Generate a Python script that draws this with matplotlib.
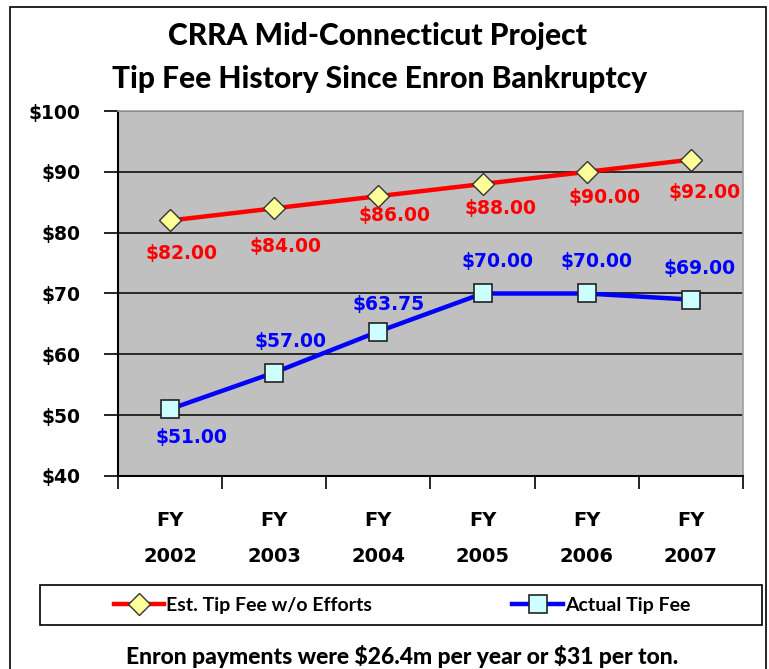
import matplotlib
matplotlib.use("Agg")
import matplotlib.pyplot as plt
from matplotlib.patches import Rectangle
import numpy as np

# Tip fee data, $ per ton
years = ["2002", "2003", "2004", "2005", "2006", "2007"]
est_fee = [82.00, 84.00, 86.00, 88.00, 90.00, 92.00]
actual_fee = [51.00, 57.00, 63.75, 70.00, 70.00, 69.00]

# label nudges in pixels (dx, dy)
est_offsets = [(11, -33), (11, -38), (16, -19), (18, -24), (18, -26), (14, -33)]
act_offsets = [(21, -28), (16, 31), (10, 27), (15, 32), (10, 32), (9, 31)]

fig = plt.figure(figsize=(7.69, 6.69), dpi=100)
fig.patches.append(Rectangle((10 / 769, -0.01), 756 / 769, 1 - 7 / 669 + 0.01,
                             transform=fig.transFigure, fill=False,
                             edgecolor="black", linewidth=1.2))

ax = fig.add_axes([118 / 769, 1 - 476 / 669, 625 / 769, 365 / 669])
ax.set_facecolor("#c0c0c0")

x = np.arange(len(years))
ax.plot(x, est_fee, color="#ff0000", lw=3.2, marker="D", ms=11,
        mfc="#ffff99", mec="#333333", mew=1, label="Est. Tip Fee w/o Efforts", zorder=3)
ax.plot(x, actual_fee, color="#0000ff", lw=3.2, marker="s", ms=12.5,
        mfc="#ccffff", mec="#222222", mew=1.2, label="Actual Tip Fee", zorder=3)

for xi, v, (dx, dy) in zip(x, est_fee, est_offsets):
    ax.annotate(f"\\${v:.2f}", (xi, v), xytext=(dx, dy), textcoords="offset pixels",
                ha="center", va="center", color="#ff0000", fontsize=13.5,
                fontweight="bold", family="DejaVu Sans", zorder=4)
for xi, v, (dx, dy) in zip(x, actual_fee, act_offsets):
    ax.annotate(f"\\${v:.2f}", (xi, v), xytext=(dx, dy), textcoords="offset pixels",
                ha="center", va="center", color="#0000ff", fontsize=13.5,
                fontweight="bold", family="DejaVu Sans", zorder=4)

ax.set_xlim(-0.5, len(years) - 0.5)
ax.set_ylim(40, 100)
ax.set_yticks(np.arange(40, 101, 10))
ax.set_yticklabels([f"\\${t}" for t in range(40, 101, 10)], fontsize=13.5,
                   fontweight="bold", family="DejaVu Sans")
ax.yaxis.grid(True, color="black", lw=1.1)
ax.set_axisbelow(True)

ax.set_xticks(np.arange(-0.5, len(years), 1))
ax.set_xticklabels([])
ax.set_xticks(x, minor=True)
ax.set_xticklabels([f"FY\n\n{y}" for y in years], minor=True, fontsize=14,
                   fontweight="bold", family="DejaVu Sans", linespacing=0.95)
ax.tick_params(axis="x", which="major", direction="out", length=9, width=1.2)
ax.tick_params(axis="x", which="minor", length=0, pad=25)
ax.tick_params(axis="y", direction="out", length=10, width=1.2, pad=17)

for s in ["left", "bottom"]:
    ax.spines[s].set_color("black")
    ax.spines[s].set_linewidth(1.5)
for s in ["top", "right"]:
    ax.spines[s].set_color("#a0a0a0")
    ax.spines[s].set_linewidth(1.2)

fig.text(377 / 769, 1 - 36 / 669, "CRRA Mid-Connecticut Project", ha="center",
         va="center", fontsize=21.5, fontweight=900, family="Lato")
fig.text(380 / 769, 1 - 79 / 669, "Tip Fee History Since Enron Bankruptcy", ha="center",
         va="center", fontsize=21.5, fontweight=900, family="Lato")

# legend box drawn by hand so the entries can sit inside a wider frame
fig.patches.append(Rectangle((40 / 769, 1 - 625 / 669), 722 / 769, 40 / 669,
                             transform=fig.transFigure, fill=False,
                             edgecolor="black", linewidth=1.2))
fig.legend(loc="center", bbox_to_anchor=(402 / 769, 1 - 605 / 669), ncol=2,
           frameon=False, handlelength=2.6, handletextpad=0.1, columnspacing=7.2,
           prop={"family": "Lato", "weight": "bold", "size": 14})

fig.text(402 / 769, 1 - 657 / 669, "Enron payments were \\$26.4m per year or \\$31 per ton.",
         ha="center", va="center", fontsize=16.5, fontweight=900, family="Lato")

fig.savefig("out.png", dpi=100)
